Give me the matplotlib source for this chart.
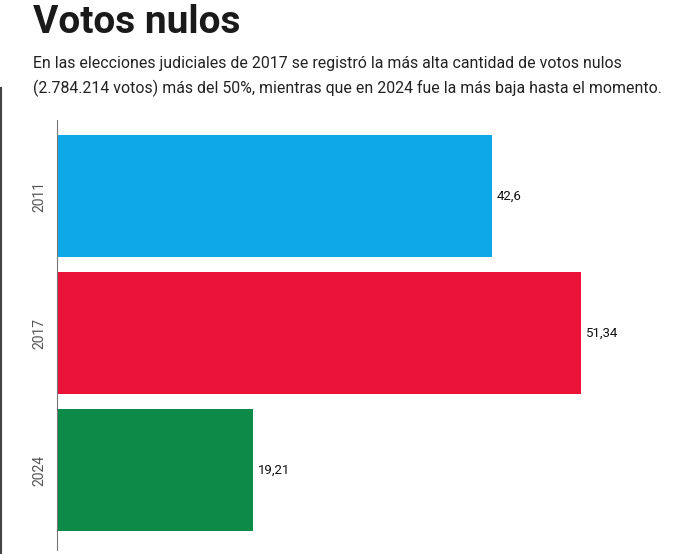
import matplotlib.pyplot as plt

# Data
years = ["2011", "2017", "2024"]
values = [42.6, 51.34, 19.21]
labels = ["42,6", "51,34", "19,21"]
colors = ["#0EA7E8", "#EB1237", "#0B8A48"]

plt.rcParams['font.family'] = ['Roboto', 'DejaVu Sans']

fig = plt.figure(figsize=(6.92, 5.54), dpi=100)

# Title and subtitle
fig.text(33 / 692, 1 - 33 / 554, "Votos nulos", fontsize=28, fontweight='bold',
         color='#1a1a1a', va='baseline', ha='left')
fig.text(33 / 692, 1 - 68 / 554, "En las elecciones judiciales de 2017 se registró la más alta cantidad de votos nulos",
         fontsize=11.4, color='#222222', va='baseline', ha='left')
fig.text(33 / 692, 1 - 93 / 554, "(2.784.214 votos) más del 50%, mientras que en 2024 fue la más baja hasta el momento.",
         fontsize=11.4, color='#222222', va='baseline', ha='left')

# Left edge line
fig.add_artist(plt.Line2D([1.5 / 692, 1.5 / 692], [0, 1 - 88 / 554], transform=fig.transFigure,
                          color='#444444', linewidth=1.5))

ax = fig.add_axes([57 / 692, 1 - 550 / 554, (685 - 57) / 692, (550 - 120) / 554])

pos = list(range(len(years)))
ax.barh(pos, values, height=0.89, color=colors)
for p, v, lab in zip(pos, values, labels):
    ax.text(v + 0.5, p, lab, va='center', ha='left', fontsize=9.5, color='#111111')

ax.set_ylim(2.58, -0.555)
ax.set_xlim(0, (685 - 57) / 10.21)
ax.set_yticks(pos)
ax.set_yticklabels(years, rotation=90, va='center', fontsize=10, color='#555555')
ax.tick_params(axis='y', length=0, pad=8)
ax.set_xticks([])
for s in ['top', 'right', 'bottom']:
    ax.spines[s].set_visible(False)
ax.spines['left'].set_color('#777777')
ax.spines['left'].set_linewidth(0.8)

fig.savefig("out.png", dpi=100)
